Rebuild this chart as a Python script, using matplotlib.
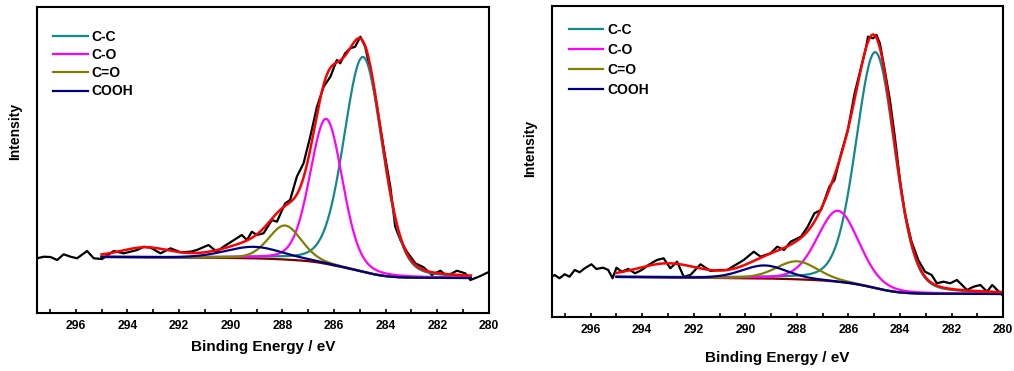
import numpy as np
import matplotlib
matplotlib.use("Agg")
from matplotlib import pyplot as plt

plt.rcParams['font.family'] = ['Liberation Sans', 'DejaVu Sans']
plt.rcParams['font.weight'] = 'bold'

# ---- raw spectra (binding energy eV, intensity a.u.) ----
left_E = [297.5, 297.24, 296.98, 296.72, 296.47, 296.2, 295.95, 295.56, 295.3, 294.98,
          294.53, 294.14, 293.62, 293.37, 293.1, 292.72, 292.33, 291.94, 291.57, 291.31,
          290.86, 290.54, 290.28, 289.57, 289.37, 289.18, 288.99, 288.73, 288.4, 288.21,
          287.89, 287.7, 287.44, 287.18, 286.92, 286.66, 286.4, 286.14, 285.89, 285.76,
          285.57, 285.37, 285.18, 284.98, 284.79, 284.6, 284.4, 284.21, 284.02, 283.82,
          283.63, 283.43, 283.18, 282.85, 282.53, 282.21, 281.88, 281.63, 281.24, 280.92,
          280.72, 280.33, 280.07, 280.0]
left_I = [54.7, 56.3, 56, 53, 58.7, 56.3, 54.7, 62, 54.7, 54,
          62, 59.7, 63, 66.3, 65.3, 59.7, 64.7, 60.7, 61.3, 63,
          68, 61.3, 66.3, 78, 73, 81.3, 78, 79.7, 93, 91.3,
          109.7, 113, 136.3, 149.7, 176.3, 206.3, 226.3, 236.3, 253, 249.7,
          259.7, 264.7, 266.3, 276.3, 266.3, 243, 216.3, 186.3, 156.3, 126.3,
          86.3, 73, 61.3, 49.7, 45.7, 38, 42.3, 37, 42.3, 39.7,
          33, 37, 40.3, 41]

right_E = [297.6, 297.4, 297.21, 297.01, 296.82, 296.62, 296.43, 296.23, 295.97, 295.78,
           295.52, 295.32, 295.15, 295.0, 294.8, 294.54, 294.28, 294.02, 293.76, 293.43,
           293.17, 292.91, 292.65, 292.39, 292.13, 291.74, 291.35, 291.02, 290.71, 290.38,
           290.06, 289.67, 289.41, 289.02, 288.76, 288.5, 288.24, 287.84, 287.58, 287.32,
           287.06, 286.74, 286.54, 286.28, 286.02, 285.76, 285.5, 285.31, 285.24, 285.04,
           284.91, 284.78, 284.59, 284.39, 284.2, 284.0, 283.81, 283.55, 283.29, 283.03,
           282.77, 282.57, 282.31, 282.05, 281.79, 281.59, 281.4, 281.14, 280.88, 280.62,
           280.42, 280.16, 279.97]
right_I = [38.7, 42, 38.7, 42.7, 40.3, 47, 44.7, 48.7, 52.7, 48,
           49.3, 47, 38.7, 49.3, 45.3, 48, 43.7, 47, 52, 57,
           58.7, 48.7, 55.3, 40.3, 42, 52.7, 46, 47, 47, 52,
           57, 65.3, 60.3, 63.7, 70.3, 67, 75.3, 80.3, 90.3, 103.7,
           107, 130.3, 137, 163.7, 187, 223.7, 250.3, 270.3, 280.3, 278.7,
           282, 273.7, 247, 217, 180.3, 137, 103.7, 75.3, 57, 45.3,
           42, 33.7, 35.3, 33.7, 37, 32, 27, 30.3, 32, 25.3,
           32, 25.3, 20.3]

# ---- fitted components: C-C, C-O, C=O, COOH, satellite ----
labels = ["C-C", "C-O", "C=O", "COOH"]
colors = ["#138a8a", "#ff00ff", "#808000", "#00007f"]

left_center = [284.87, 286.3, 287.9, 289.1, 293.3]
left_height = [215, 145, 34, 11.5, 9]
left_fwhm = [1.76, 1.48, 1.5, 2.6, 2.2]
left_bg = [56, 35]          # Shirley background, high-BE / low-BE end
left_range = [295, 280.7]

right_center = [284.95, 286.4, 288.0, 289.25, 293.0]
right_height = [236, 71, 18, 13, 13]
right_fwhm = [1.78, 1.9, 1.9, 2.05, 2.8]
right_bg = [40, 23]
right_range = [295, 280]


def pvoigt(x, c, h, w, eta=0.2):
    d = (x - c) / w
    return h * ((1 - eta) * np.exp(-4 * np.log(2) * d**2) + eta / (1 + 4 * d**2))


def panel(ax, E, I, centers, heights, fwhms, bg, rng, ylim, leg_anchor, spacing):
    x = np.linspace(rng[0], rng[1], 600)
    comps = [pvoigt(x, c, h, w) for c, h, w in zip(centers, heights, fwhms)]
    total = np.sum(comps, axis=0)
    # Shirley-like step: area on the low-BE side
    area = np.cumsum(total[::-1])[::-1]
    back = bg[1] + (bg[0] - bg[1]) * area / area[0]

    ax.plot(E, I, color='black', lw=1.6)
    ax.plot(x, back, color='#7a0000', lw=1.6)
    for k in range(4):
        ax.plot(x, comps[k] + back, color=colors[k], lw=1.6, label=labels[k])
    ax.plot(x, total + back, color='red', lw=1.8)

    ax.set_xlim(297.5, 280)
    ax.set_ylim(*ylim)
    ax.set_yticks([])
    ax.set_xticks(np.arange(296, 279, -2))
    ax.set_xticks(np.arange(297, 280, -2), minor=True)
    ax.tick_params(axis='x', which='both', direction='in', length=3, width=1.2,
                   labelsize=8.7, pad=5)
    for lab in ax.get_xticklabels():
        lab.set_fontweight('bold')
    for s in ax.spines.values():
        s.set_linewidth(1.5)
    ax.set_xlabel("Binding Energy / eV", fontsize=11, fontweight='bold')
    ax.set_ylabel("Intensity", fontsize=10, fontweight='bold')
    ax.legend(loc='upper left', bbox_to_anchor=leg_anchor, frameon=False,
              prop={'size': 10, 'weight': 'bold'}, handlelength=2.5,
              handletextpad=0.3, labelspacing=spacing, borderaxespad=0, borderpad=0)


fig = plt.figure(figsize=(10.14, 3.71), dpi=100)
ax1 = fig.add_axes([0.0365, 0.1563, 0.4457, 0.8248])
ax2 = fig.add_axes([0.5444, 0.1456, 0.4448, 0.8383])

panel(ax1, left_E, left_I, left_center, left_height, left_fwhm, left_bg, left_range,
      (0, 306), (0.035, 0.925), 0.3)
panel(ax2, right_E, right_I, right_center, right_height, right_fwhm, right_bg, right_range,
      (0, 311), (0.037, 0.945), 0.42)

ax1.yaxis.set_label_coords(-0.033, 0.595)
ax2.yaxis.set_label_coords(-0.033, 0.543)
ax1.xaxis.labelpad = 6
ax2.xaxis.labelpad = 11

plt.savefig('out.png', dpi=100)
